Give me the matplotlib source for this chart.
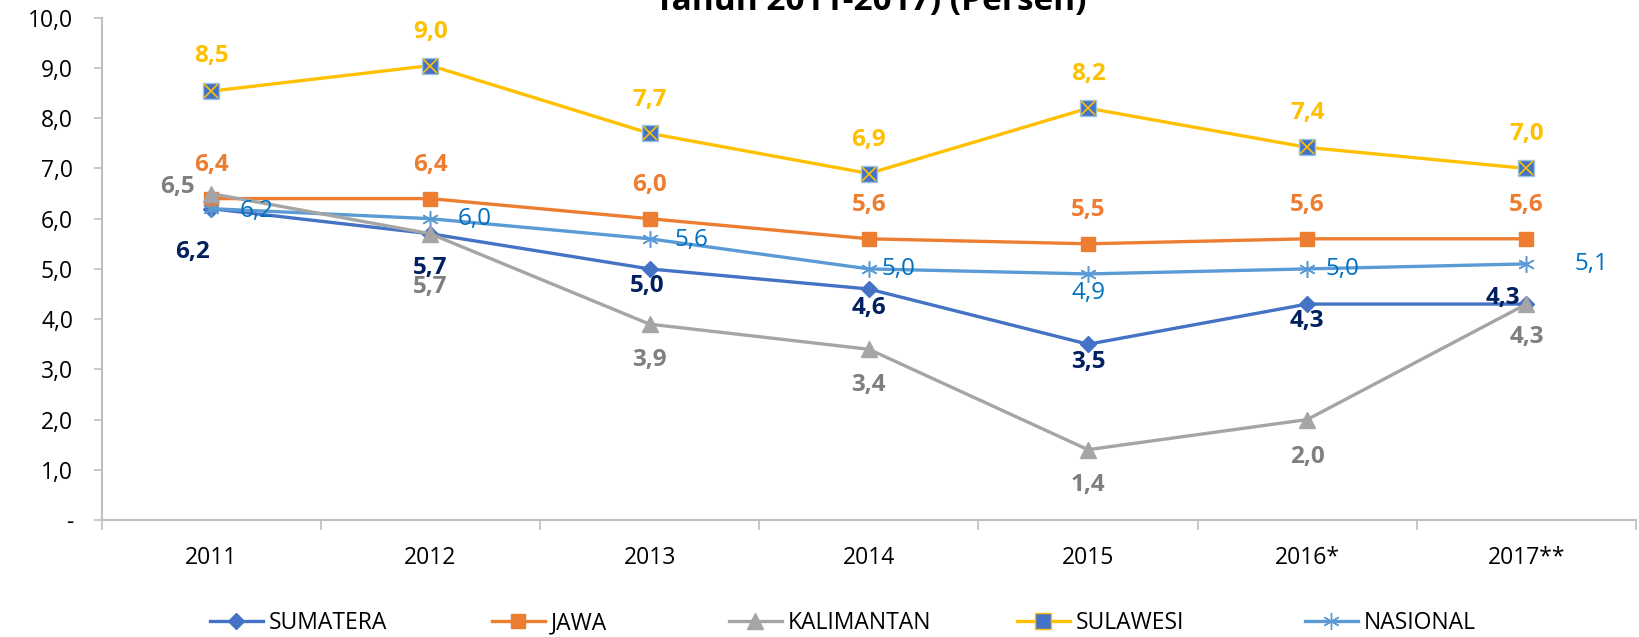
import matplotlib
matplotlib.use("Agg")
import matplotlib.pyplot as plt
from matplotlib.lines import Line2D

years = ["2011", "2012", "2013", "2014", "2015", "2016*", "2017**"]
sumatera = [6.2, 5.7, 5.0, 4.6, 3.5, 4.3, 4.3]
jawa = [6.4, 6.4, 6.0, 5.6, 5.5, 5.6, 5.6]
kalimantan = [6.5, 5.7, 3.9, 3.4, 1.4, 2.0, 4.3]
sulawesi = [8.54, 9.05, 7.7, 6.9, 8.2, 7.42, 7.0]
sulawesi_labels = ["8,5", "9,0", "7,7", "6,9", "8,2", "7,4", "7,0"]
nasional = [6.2, 6.0, 5.6, 5.0, 4.9, 5.0, 5.1]
yticks = [0, 1, 2, 3, 4, 5, 6, 7, 8, 9, 10]
ytick_labels = ["-", "1,0", "2,0", "3,0", "4,0", "5,0", "6,0", "7,0", "8,0", "9,0", "10,0"]
names = ["SUMATERA", "JAWA", "KALIMANTAN", "SULAWESI", "NASIONAL"]
title = "Tahun 2011-2017) (Persen)"

C_SUM = "#4472C4"
C_JAW = "#ED7D31"
C_KAL = "#A5A5A5"
C_SUL = "#FFC000"
C_NAS = "#5B9BD5"

FONT = "Open Sans"
plt.rcParams["font.family"] = [FONT, "DejaVu Sans"]

fig = plt.figure(figsize=(16.4, 6.37), dpi=100)
ax = fig.add_axes([0.0619, 0.1837, 0.9357, 0.7883])

x = [i + 0.5 for i in range(len(years))]

lw = 2.4
ax.plot(x, sumatera, color=C_SUM, lw=lw, marker="D", ms=8, mfc=C_SUM, mec=C_SUM, zorder=3)
ax.plot(x, jawa, color=C_JAW, lw=lw, marker="s", ms=10, mfc=C_JAW, mec=C_JAW, zorder=3)
ax.plot(x, kalimantan, color=C_KAL, lw=lw, marker="^", ms=11, mfc=C_KAL, mec=C_KAL, zorder=4)
ax.plot(x, sulawesi, color=C_SUL, lw=lw, marker="s", ms=11, mfc=C_SUM, mec="#9DC3E6", mew=1, zorder=3)
ax.plot(x, sulawesi, lw=0, marker="x", ms=10, mec=C_SUL, mew=1.2, zorder=3.5)
ax.plot(x, nasional, color=C_NAS, lw=lw, marker=(6, 2, 0), ms=12, mec=C_NAS, mew=1.1, zorder=3)

ax.set_xlim(0, 7)
ax.set_ylim(0, 10)
ax.set_yticks(yticks)
ax.set_yticklabels(ytick_labels)
ax.set_xticks(x)
ax.set_xticklabels(years)
ax.set_xticks(range(0, 8), minor=True)
ax.tick_params(axis="x", which="major", length=0, pad=19, labelsize=16.5)
ax.tick_params(axis="x", which="minor", length=7.5, color="#BFBFBF", width=1.2, direction="out")
ax.tick_params(axis="y", length=5.5, color="#BFBFBF", width=1.2, labelsize=16.5, pad=15)
for s in ["top", "right"]:
    ax.spines[s].set_visible(False)
for s in ["left", "bottom"]:
    ax.spines[s].set_color("#BFBFBF")
    ax.spines[s].set_linewidth(1.5)

def fmt(v):
    return f"{v:.1f}".replace(".", ",")

def lab(xi, v, txt, dx, dy, color, weight="bold"):
    ax.annotate(txt, (xi, v), xytext=(dx, dy), textcoords="offset points",
                ha="center", va="center", color=color, fontsize=17.5, fontweight=weight,
                zorder=6)

sul_off = [25, 24, 24, 24, 25, 25, 25]
for xi, v, t, dy in zip(x, sulawesi, sulawesi_labels, sul_off):
    lab(xi, v, t, 0, dy, C_SUL)
for xi, v in zip(x, jawa):
    lab(xi, v, fmt(v), 0, 24, C_JAW)

sum_off = [(-13.5, -31), (0, -25), (-2, -12.5), (0, -13.5), (0, -13), (0, -12), (-17, 4.5)]
for xi, v, (dx, dy) in zip(x, sumatera, sum_off):
    lab(xi, v, fmt(v), dx, dy, "#002060")

kal_off = [(-24, 5), (0, -38), (0, -25.6), (0, -26), (0, -25.6), (0, -27), (0, -24)]
for xi, v, (dx, dy) in zip(x, kalimantan, kal_off):
    lab(xi, v, fmt(v), dx, dy, "#7F7F7F")

nas_off = [(33, -1.5), (32, 0), (30, -1), (21, 0), (0, -13.5), (25, 0), (47, 0)]
for xi, v, (dx, dy) in zip(x, nasional, nas_off):
    lab(xi, v, fmt(v), dx, dy, "#0070C0", weight="normal")

handles = [
    Line2D([], [], color=C_SUM, lw=lw, marker="D", ms=8, mfc=C_SUM, mec=C_SUM),
    Line2D([], [], color=C_JAW, lw=lw, marker="s", ms=10, mfc=C_JAW, mec=C_JAW),
    Line2D([], [], color=C_KAL, lw=lw, marker="^", ms=11, mfc=C_KAL, mec=C_KAL),
    Line2D([], [], color=C_SUL, lw=lw, marker="s", ms=11, mfc=C_SUM, mec=C_SUL),
    Line2D([], [], color=C_NAS, lw=lw, marker=(6, 2, 0), ms=12, mec=C_NAS),
]
leg_x = [210, 492, 729, 1017, 1305]
for h, n, lx in zip(handles, names, leg_x):
    fig.legend([h], [n], loc="center left", bbox_to_anchor=(lx / 1640, 1 - 623 / 637),
               frameon=False, fontsize=16.5, handlelength=2.3, handletextpad=0.25,
               borderpad=0, borderaxespad=0)

fig.text(0.531, 1 - 10 / 637, title, ha="center", va="baseline",
         fontsize=24, fontweight="bold")

fig.savefig("out.png", dpi=100)
